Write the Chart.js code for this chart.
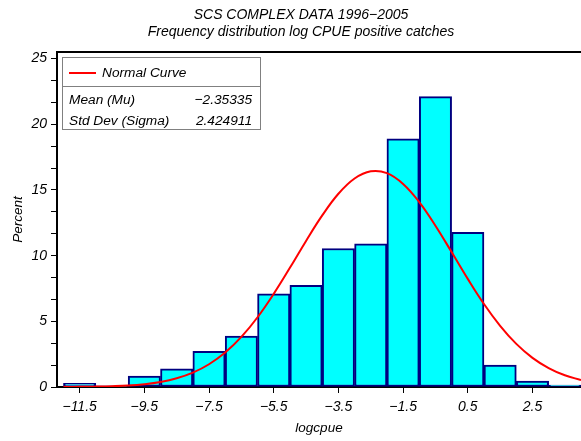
<!DOCTYPE html>
<html>
<head>
<meta charset="utf-8">
<script src="https://cdn.jsdelivr.net/npm/chart.js@4"></script>
<style>
  html, body { margin: 0; padding: 0; background: #fff; }
  #wrap { width: 581px; height: 441px; }
</style>
</head>
<body>
<div id="wrap"><canvas id="chart" width="581" height="441"></canvas></div>
<script>
'use strict';

// histogram bins (centres) and percent per bin
const binCentres = [-11.5, -10.5, -9.5, -8.5, -7.5, -6.5, -5.5, -4.5, -3.5, -2.5, -1.5, -0.5, 0.5, 1.5, 2.5, 3.5];
const binPercent = [0.28, 0.08, 0.84, 1.39, 2.71, 3.88, 7.09, 7.73, 10.54, 10.89, 18.9, 22.1, 11.78, 1.67, 0.46, 0.15];

// normal curve
const curveX = [-12, -11.5, -11, -10.5, -10, -9.5, -9, -8.5, -8, -7.5, -7, -6.5, -6, -5.5, -5, -4.5, -4,
  -3.5, -3, -2.5, -2, -1.5, -1, -0.5, 0, 0.5, 1, 1.5, 2, 2.5, 3, 3.5, 4];
const curveY = [0.01, 0.01, 0.03, 0.06, 0.11, 0.21, 0.38, 0.66, 1.09, 1.73, 2.62, 3.81, 5.31, 7.09, 9.07, 11.12, 13.06,
  14.71, 15.87, 16.42, 16.28, 15.46, 14.08, 12.28, 10.27, 8.23, 6.32, 4.66, 3.28, 2.22, 1.44, 0.89, 0.53];

const xTicks = [-11.5, -9.5, -7.5, -5.5, -3.5, -1.5, 0.5, 2.5];
const yLabels = [0, 5, 10, 15, 20, 25];

const titleLines = ['SCS COMPLEX DATA 1996\u22122005', 'Frequency distribution log CPUE positive catches'];
const statRows = [['Mean (Mu)', '\u22122.35335'], ['Std Dev (Sigma)', '2.424911']];

const FONT = "'Liberation Sans', Arial, sans-serif";

function minus(v) {
  return v < 0 ? '\u2212' + Math.abs(v) : String(v);
}

// titles, legend box and top frame line
const decorations = {
  id: 'decorations',
  afterDraw(chart) {
    const ctx = chart.ctx;
    const area = chart.chartArea;
    ctx.save();

    ctx.fillStyle = '#000';
    ctx.font = 'italic 14px ' + FONT;
    ctx.textAlign = 'center';
    ctx.textBaseline = 'middle';
    ctx.fillText(titleLines[0], 301, 15);
    ctx.fillText(titleLines[1], 301, 32);

    // top of the frame
    ctx.strokeStyle = '#000';
    ctx.lineWidth = 2;
    ctx.beginPath();
    ctx.moveTo(area.left - 1, area.top);
    ctx.lineTo(area.right, area.top);
    ctx.stroke();

    // legend box
    const bx = 62.5, by = 57.5, bw = 198, bh = 72;
    ctx.fillStyle = '#fff';
    ctx.fillRect(bx, by, bw, bh);
    ctx.strokeStyle = '#808080';
    ctx.lineWidth = 1;
    ctx.strokeRect(bx, by, bw, bh);
    ctx.beginPath();
    ctx.moveTo(bx, 86.5);
    ctx.lineTo(bx + bw, 86.5);
    ctx.stroke();

    ctx.strokeStyle = '#ff0000';
    ctx.lineWidth = 2;
    ctx.beginPath();
    ctx.moveTo(69, 73);
    ctx.lineTo(96, 73);
    ctx.stroke();

    ctx.fillStyle = '#000';
    ctx.font = 'italic 13.7px ' + FONT;
    ctx.textAlign = 'left';
    ctx.fillText('Normal Curve', 102, 73);
    ctx.fillText(statRows[0][0], 69, 100);
    ctx.fillText(statRows[1][0], 69, 121);
    ctx.textAlign = 'right';
    ctx.fillText(statRows[0][1], 252, 100);
    ctx.fillText(statRows[1][1], 252, 121);

    ctx.restore();
  }
};

new Chart(document.getElementById('chart'), {
  type: 'bar',
  data: {
    datasets: [
      {
        type: 'line',
        label: 'Normal Curve',
        data: curveX.map((x, i) => ({ x: x, y: curveY[i] })),
        borderColor: '#ff0000',
        borderWidth: 2,
        pointRadius: 0,
        tension: 0.4,
        order: 0,
      },
      {
        type: 'bar',
        label: 'Percent',
        data: binCentres.map((x, i) => ({ x: x, y: binPercent[i] })),
        backgroundColor: '#00ffff',
        borderColor: '#000080',
        borderWidth: 2,
        borderSkipped: false,
        barPercentage: 1,
        categoryPercentage: 1,
        order: 1,
      },
    ],
  },
  options: {
    responsive: false,
    animation: false,
    layout: { padding: { top: 52, left: 0, right: 0, bottom: 0 } },
    plugins: {
      legend: { display: false },
      tooltip: { enabled: false },
    },
    scales: {
      x: {
        type: 'linear',
        min: -12.2,
        max: 4,
        offset: false,
        afterFit(scale) { scale.height = 54; },
        afterBuildTicks(scale) { scale.ticks = xTicks.map(v => ({ value: v })); },
        border: { display: true, color: '#000', width: 2 },
        grid: { display: true, offset: false, drawOnChartArea: false, drawTicks: true, tickLength: 6, color: '#000' },
        ticks: {
          color: '#000',
          font: { family: FONT, size: 14, style: 'italic' },
          padding: 6,
          maxRotation: 0,
          autoSkip: false,
          callback: v => minus(v),
        },
        title: {
          display: true,
          text: 'logcpue',
          color: '#000',
          font: { family: FONT, size: 13.5, style: 'italic' },
          padding: { top: 0, bottom: 5 },
        },
      },
      y: {
        min: 0,
        max: 25.5,
        afterFit(scale) { scale.width = 57; },
        border: { display: true, color: '#000', width: 2 },
        grid: { display: true, drawOnChartArea: false, drawTicks: true, tickLength: 6, color: '#000' },
        ticks: {
          stepSize: 5 / 3,
          includeBounds: false,
          color: '#000',
          font: { family: FONT, size: 14, style: 'italic' },
          padding: 4,
          callback: v => {
            const r = Math.round(v);
            return Math.abs(v - r) < 1e-6 && yLabels.includes(r) ? String(r) : '';
          },
        },
        title: {
          display: true,
          text: 'Percent',
          color: '#000',
          font: { family: FONT, size: 13.5, style: 'italic' },
          padding: { top: 10, bottom: 0 },
        },
      },
    },
  },
  plugins: [decorations],
});
</script>
</body>
</html>
